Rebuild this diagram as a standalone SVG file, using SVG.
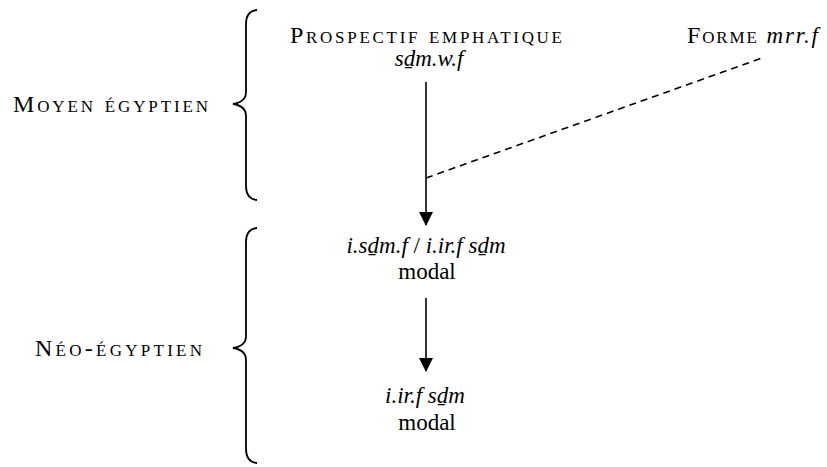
<svg xmlns="http://www.w3.org/2000/svg" width="827" height="467" viewBox="0 0 827 467">
<style>
text{font-family:"Liberation Serif","Times New Roman",serif;font-size:23px;fill:#000}
.c{text-anchor:middle}
.i{font-style:italic}
.sc{font-variant:small-caps;font-variant-caps:small-caps;font-size:24px}
.brace{fill:none;stroke:#000;stroke-width:1.8}
.ln{stroke:#000;stroke-width:1.6;fill:none}
.dash{stroke:#000;stroke-width:1.6;fill:none;stroke-dasharray:7 5}
</style>
<defs>
<marker id="ah" viewBox="0 0 14 14" refX="13" refY="7" markerWidth="14" markerHeight="14" markerUnits="userSpaceOnUse" orient="auto">
<path d="M0 0 L14 7 L0 14 Z" fill="#000"/>
</marker>
</defs>
<g id="brace-moyen">
<path class="brace" d="M257 10 Q246 11 246 24 L246 92 Q246 102 233 104 Q246 106 246 116 L246 186 Q246 199 257 200"/>
<text class="sc" x="13" y="112" textLength="195" lengthAdjust="spacing">Moyen égyptien</text>
</g>
<g id="brace-neo">
<path class="brace" d="M257 228 Q246 229 246 242 L246 336 Q246 346 233 348 Q246 350 246 360 L246 449 Q246 462 257 463"/>
<text class="sc" x="35" y="356" textLength="167" lengthAdjust="spacing">Néo-égyptien</text>
</g>
<g id="node-prospectif">
<text class="c sc" x="426" y="43" textLength="272" lengthAdjust="spacing">Prospectif emphatique</text>
<text class="c i" x="429" y="66">sḏm.w.f</text>
</g>
<g id="node-mrrf">
<text x="687" y="43" textLength="131" lengthAdjust="spacing"><tspan class="sc">Forme</tspan> <tspan class="i">mrr.f</tspan></text>
</g>
<g id="node-isdmf">
<text class="c" x="426" y="253"><tspan class="i">i.sḏm.f</tspan> / <tspan class="i">i.ir.f sḏm</tspan></text>
<text class="c" x="427" y="279">modal</text>
</g>
<g id="node-iirf">
<text class="c" x="425" y="403"><tspan class="i">i.ir.f sḏm</tspan></text>
<text class="c" x="427" y="430">modal</text>
</g>
<g id="connectors">
<line class="ln" x1="426" y1="82" x2="426" y2="225" marker-end="url(#ah)"/>
<line class="dash" x1="426" y1="178" x2="762" y2="58"/>
<line class="ln" x1="426" y1="298" x2="426" y2="371" marker-end="url(#ah)"/>
</g>
</svg>
